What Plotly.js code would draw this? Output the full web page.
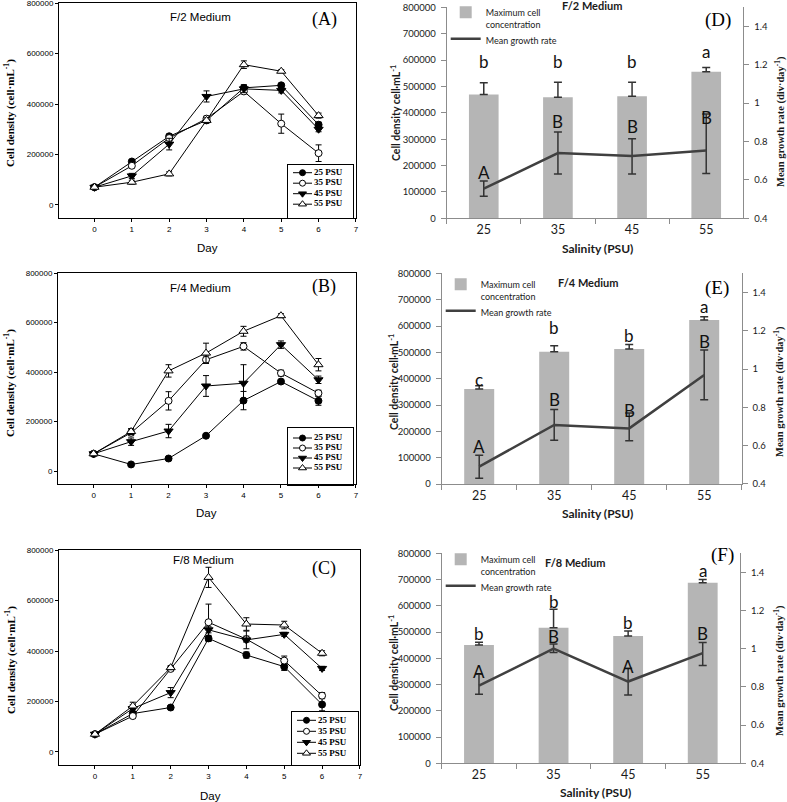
<!DOCTYPE html>
<html>
<head>
<meta charset="utf-8">
<script src="https://cdn.plot.ly/plotly-3.0.1.min.js"></script>
<style>
  html, body { margin: 0; padding: 0; background: #fff; }
  #plotArea { width: 787px; height: 802px; }
</style>
</head>
<body>
<div id="plotArea"></div>
<script>
// Growth curves, cells per mL
var days = [0, 1, 2, 3, 4, 5, 6];
var psuNames = ["25 PSU", "35 PSU", "45 PSU", "55 PSU"];

// F/2 medium (A)
var f2_25 = [70000, 172000, 272000, 335000, 464000, 474000, 318000];
var f2_35 = [70000, 155000, 265000, 342000, 450000, 322000, 205000];
var f2_45 = [70000, 115000, 241000, 430000, 460000, 454000, 300000];
var f2_55 = [70000, 90000, 123000, 335000, 556000, 530000, 354000];
var f2_25e = [3000, 8000, 8000, 8000, 12000, 8000, 10000];
var f2_35e = [3000, 8000, 8000, 10000, 10000, 38000, 33000];
var f2_45e = [3000, 10000, 23000, 22000, 15000, 10000, 10000];
var f2_55e = [3000, 8000, 8000, 10000, 15000, 6000, 10000];

// F/4 medium (B)
var f4_25 = [70000, 27000, 51000, 143000, 285000, 362000, 284000];
var f4_35 = [70000, 155000, 284000, 450000, 504000, 396000, 315000];
var f4_45 = [70000, 119000, 162000, 344000, 355000, 511000, 369000];
var f4_55 = [70000, 160000, 405000, 477000, 565000, 628000, 430000];
var f4_25e = [3000, 5000, 5000, 5000, 37000, 5000, 18000];
var f4_35e = [3000, 12000, 37000, 15000, 15000, 12000, 12000];
var f4_45e = [3000, 15000, 27000, 42000, 75000, 15000, 15000];
var f4_55e = [3000, 12000, 25000, 40000, 20000, 8000, 25000];

// F/8 medium (C)
var f8_25 = [70000, 152000, 176000, 450000, 384000, 338000, 188000];
var f8_35 = [70000, 142000, 329000, 514000, 447000, 362000, 223000];
var f8_45 = [70000, 172000, 235000, 484000, 444000, 466000, 331000];
var f8_55 = [70000, 182000, 334000, 692000, 507000, 503000, 391000];
var f8_25e = [3000, 8000, 8000, 12000, 12000, 15000, 25000];
var f8_35e = [3000, 8000, 8000, 72000, 12000, 18000, 12000];
var f8_45e = [3000, 15000, 20000, 12000, 35000, 8000, 8000];
var f8_55e = [3000, 15000, 8000, 40000, 25000, 15000, 10000];

// Salinity summaries (D, E, F)
var salinity = ["25", "35", "45", "55"];
var f2Max = [470000, 459000, 463000, 556000];
var f2MaxErr = [44000, 57000, 53000, 16000];
var f2Rate = [0.554, 0.740, 0.725, 0.753];
var f2RateUp = [0.04, 0.11, 0.09, 0.19];
var f2RateDown = [0.04, 0.11, 0.095, 0.12];
var f2Lower = ["b", "b", "b", "a"];
var f2Upper = ["A", "B", "B", "B"];
var f2LowerAt = [596000, 596000, 596000, 632000];
var f2UpperAt = [174000, 366000, 347000, 383000];

var f4Max = [361000, 502000, 513000, 623000];
var f4MaxErr = [12000, 23000, 17000, 12000];
var f4Rate = [0.49, 0.708, 0.69, 0.969];
var f4RateUp = [0.06, 0.08, 0.08, 0.13];
var f4RateDown = [0.06, 0.08, 0.065, 0.13];
var f4Lower = ["c", "b", "b", "a"];
var f4Upper = ["A", "B", "B", "B"];
var f4LowerAt = [397000, 594000, 563000, 673000];
var f4UpperAt = [142000, 321000, 278000, 543000];

var f8Max = [451000, 517000, 485000, 688000];
var f8MaxErr = [10000, 70000, 19000, 13000];
var f8Rate = [0.806, 1.0, 0.828, 0.977];
var f8RateUp = [0.06, 0.025, 0.07, 0.056];
var f8RateDown = [0.045, 0.02, 0.07, 0.065];
var f8Lower = ["b", "b", "b", "a"];
var f8Upper = ["A", "B", "A", "B"];
var f8LowerAt = [493000, 618000, 536000, 734000];
var f8UpperAt = [349000, 482000, 368000, 495000];

// ---- layout helpers (pixel -> paper) ----
var W = 787, H = 802;
function px(x) { return x / W; }
function py(y) { return 1 - y / H; }

var psuStyle = [
  {symbol: "circle", fill: "black", size: 7},
  {symbol: "circle", fill: "white", size: 7},
  {symbol: "triangle-down", fill: "black", size: 8},
  {symbol: "triangle-up", fill: "white", size: 8}
];

var sansTick = {family: "Liberation Sans, Arial", size: 8, color: "black"};
var data = [];
var layout = {
  width: W, height: H,
  margin: {l: 0, r: 0, t: 0, b: 0},
  paper_bgcolor: "white", plot_bgcolor: "rgba(0,0,0,0)",
  showlegend: true,
  annotations: []
};

function note(text, x, y, font, angle) {
  layout.annotations.push({
    text: text, xref: "paper", yref: "paper", x: px(x), y: py(y),
    xanchor: "center", yanchor: "middle", showarrow: false,
    font: font, textangle: angle || 0
  });
}

// ---- left column: growth curves ----
var leftPanels = [
  {n: "", ys: [f2_25, f2_35, f2_45, f2_55], es: [f2_25e, f2_35e, f2_45e, f2_55e],
   box: [59, 356, 3, 218], leg: [288, 353, 165, 218], row0: 7.7, rowGap: 10.5, legN: 7,
   title: "F/2 Medium", titleAt: [200, 17], tag: "(A)", tagAt: [324, 19], yTitleY: 113, dayAt: [207, 248]},
  {n: "2", ys: [f4_25, f4_35, f4_45, f4_55], es: [f4_25e, f4_35e, f4_45e, f4_55e],
   box: [58, 356, 273, 484], leg: [288, 353, 428, 485], row0: 10, rowGap: 10, legN: 8,
   title: "F/4 Medium", titleAt: [200, 288], tag: "(B)", tagAt: [324, 286], yTitleY: 383, dayAt: [206, 513]},
  {n: "3", ys: [f8_25, f8_35, f8_45, f8_55], es: [f8_25e, f8_35e, f8_45e, f8_55e],
   box: [59, 360, 550, 765], leg: [292, 358, 712, 765], row0: 8.3, rowGap: 11, legN: 9,
   title: "F/8 Medium", titleAt: [203, 560], tag: "(C)", tagAt: [324, 568], yTitleY: 660, dayAt: [210, 796]}
];

leftPanels.forEach(function(p) {
  var xa = "x" + p.n, ya = "y" + p.n;
  var axisBase = {
    showline: true, mirror: true, linecolor: "black", linewidth: 1,
    ticks: "outside", ticklen: 3, tickcolor: "black", tickwidth: 1,
    showgrid: false, zeroline: false, tickfont: sansTick, fixedrange: true,
    ticklabeloverflow: "allow"
  };
  layout["xaxis" + p.n] = Object.assign({}, axisBase, {
    domain: [px(p.box[0]), px(p.box[1])], anchor: ya,
    range: [-0.95, 7.002], tickvals: [0, 1, 2, 3, 4, 5, 6, 7]
  });
  layout["yaxis" + p.n] = Object.assign({}, axisBase, {
    domain: [py(p.box[3]), py(p.box[2])], anchor: xa,
    range: [-52000, 800500], tickvals: [0, 200000, 400000, 600000, 800000], tickformat: "d"
  });

  psuNames.forEach(function(name, k) {
    var st = psuStyle[k];
    data.push({
      type: "scatter", mode: "lines+markers", name: name,
      x: days, y: p.ys[k], xaxis: xa, yaxis: ya, showlegend: false,
      line: {color: "black", width: 1},
      marker: {symbol: st.symbol, size: st.size, color: st.fill, line: {color: "black", width: 1}},
      error_y: {type: "data", array: p.es[k], visible: true, color: "black", thickness: 1, width: 3}
    });
  });

  // boxed key drawn on a small helper axis pair
  var lx = "x" + p.legN, ly = "y" + (p.legN + 3);
  var bw = p.leg[1] - p.leg[0], bh = p.leg[3] - p.leg[2];
  var keyAxis = {
    showline: true, mirror: true, linecolor: "black", linewidth: 1,
    showticklabels: false, ticks: "", showgrid: false, zeroline: false, fixedrange: true
  };
  layout["xaxis" + p.legN] = Object.assign({}, keyAxis, {
    domain: [px(p.leg[0]), px(p.leg[1])], range: [0, bw], anchor: ly
  });
  layout["yaxis" + (p.legN + 3)] = Object.assign({}, keyAxis, {
    domain: [py(p.leg[3]), py(p.leg[2])], range: [bh, 0], anchor: lx
  });
  var rows = psuNames.map(function(name, k) { return p.row0 + k * p.rowGap; });
  psuNames.forEach(function(name, k) {
    var st = psuStyle[k];
    data.push({
      type: "scatter", mode: "lines+markers", x: [5, 14.5, 24], y: [rows[k], rows[k], rows[k]],
      xaxis: lx, yaxis: ly, showlegend: false, hoverinfo: "skip",
      line: {color: "black", width: 1},
      marker: {symbol: st.symbol, size: st.size - 1, color: st.fill, opacity: [0, 1, 0],
               line: {color: "black", width: 1}}
    });
  });
  data.push({
    type: "scatter", mode: "text", x: rows.map(function() { return 26; }), y: rows,
    text: psuNames, textposition: "middle right", xaxis: lx, yaxis: ly,
    showlegend: false, hoverinfo: "skip", cliponaxis: false,
    textfont: {family: "Liberation Serif, Times New Roman", size: 9, color: "black", weight: "bold"}
  });

  note(p.title, p.titleAt[0], p.titleAt[1], {family: "Liberation Sans, Arial", size: 11.5, color: "black"});
  note(p.tag, p.tagAt[0], p.tagAt[1], {family: "Liberation Serif, Times New Roman", size: 18, color: "black"});
  note("<b>Cell density (cell·mL<sup>-1</sup>)</b>", 10, p.yTitleY,
       {family: "Liberation Serif, Times New Roman", size: 11, color: "black"}, -90);
  note("Day", p.dayAt[0], p.dayAt[1], {family: "Liberation Sans, Arial", size: 11.5, color: "black"});
});

// ---- right column: maximum concentration and growth rate ----
var rightPanels = [
  {x: "4", yl: "4", yr: "7", lg: "legend", max: f2Max, maxErr: f2MaxErr,
   rate: f2Rate, up: f2RateUp, down: f2RateDown,
   lower: f2Lower, lowerAt: f2LowerAt, upper: f2Upper, upperAt: f2UpperAt,
   box: [446.7, 743.3, 7.3, 218.3], legTop: 0,
   title: "F/2 Medium", titleAt: [592, 6], tag: "(D)", tagAt: [718, 20],
   yTitleAt: [396, 113], rTitleAt: [780, 122], xTitleAt: [597, 248]},
  {x: "5", yl: "5", yr: "8", lg: "legend2", max: f4Max, maxErr: f4MaxErr,
   rate: f4Rate, up: f4RateUp, down: f4RateDown,
   lower: f4Lower, lowerAt: f4LowerAt, upper: f4Upper, upperAt: f4UpperAt,
   box: [441.7, 741.7, 273.3, 484], legTop: 272,
   title: "F/4 Medium", titleAt: [588, 282], tag: "(E)", tagAt: [717, 288],
   yTitleAt: [393, 382], rTitleAt: [779, 392], xTitleAt: [597, 513]},
  {x: "6", yl: "6", yr: "9", lg: "legend3", max: f8Max, maxErr: f8MaxErr,
   rate: f8Rate, up: f8RateUp, down: f8RateDown,
   lower: f8Lower, lowerAt: f8LowerAt, upper: f8Upper, upperAt: f8UpperAt,
   box: [441.7, 740, 553.3, 763.3], legTop: 547,
   title: "F/8 Medium", titleAt: [575, 562], tag: "(F)", tagAt: [722, 555],
   yTitleAt: [393, 663], rTitleAt: [779, 671], xTitleAt: [595, 792]}
];

var calibri = "Lato, Open Sans, sans-serif";
var grey = "#8c8c8c";

rightPanels.forEach(function(p) {
  var xa = "x" + p.x, yl = "y" + p.yl, yr = "y" + p.yr;
  var axisBase = {
    showline: true, linecolor: grey, linewidth: 1, ticks: "outside", ticklen: 5,
    tickcolor: grey, showgrid: false, zeroline: false, fixedrange: true,
    ticklabeloverflow: "allow"
  };
  layout["xaxis" + p.x] = Object.assign({}, axisBase, {
    type: "category", domain: [px(p.box[0]), px(p.box[1])], anchor: yl,
    range: [-0.5, 3.5], tickson: "boundaries",
    tickfont: {family: calibri, size: 12.5, color: "#1a1a1a"}
  });
  layout["yaxis" + p.yl] = Object.assign({}, axisBase, {
    domain: [py(p.box[3]), py(p.box[2])], anchor: xa,
    range: [0, 800500], dtick: 100000, tickformat: "d", ticklabelstandoff: 3,
    tickfont: {family: calibri, size: 9.5, color: "#1a1a1a"}
  });
  layout["yaxis" + p.yr] = Object.assign({}, axisBase, {
    overlaying: yl, side: "right", anchor: xa,
    range: [0.3995, 1.5], tickvals: [0.4, 0.6, 0.8, 1, 1.2, 1.4], ticklabelstandoff: 3,
    tickfont: {family: calibri, size: 9.5, color: "#1a1a1a"}
  });

  data.push({
    type: "bar", name: "Maximum cell<br>concentration", x: salinity, y: p.max,
    xaxis: xa, yaxis: yl, legend: p.lg, width: 0.4,
    marker: {color: "#b5b5b5", line: {width: 0}},
    error_y: {type: "data", symmetric: false, array: p.maxErr, arrayminus: [0, 0, 0, 0],
              visible: true, color: "#333333", thickness: 1.5, width: 4}
  });
  data.push({
    type: "scatter", mode: "lines", name: "Mean growth rate", x: salinity, y: p.rate,
    xaxis: xa, yaxis: yr, legend: p.lg,
    line: {color: "#404040", width: 2.5},
    error_y: {type: "data", symmetric: false, array: p.up, arrayminus: p.down,
              visible: true, color: "#333333", thickness: 1.5, width: 4}
  });

  // key sits just inside the left axis line (kept inside the page so no margin is added)
  layout[p.lg] = {
    x: px(p.box[0] - 1), y: py(p.legTop), xanchor: "left", yanchor: "top",
    bgcolor: "rgba(0,0,0,0)", borderwidth: 0, valign: "top",
    itemwidth: 30, tracegroupgap: 0,
    font: {family: calibri, size: 9, color: "#1a1a1a"}
  };

  salinity.forEach(function(s, i) {
    layout.annotations.push({
      xref: xa, yref: yl, x: i, y: p.lowerAt[i], text: p.lower[i], showarrow: false,
      font: {family: calibri, size: 17, color: "#111"}
    });
    layout.annotations.push({
      xref: xa, yref: yl, x: i, y: p.upperAt[i], text: p.upper[i], showarrow: false,
      font: {family: calibri, size: 17, color: "#111"}
    });
  });

  note("<b>" + p.title + "</b>", p.titleAt[0], p.titleAt[1], {family: calibri, size: 11, color: "#1a1a1a"});
  note(p.tag, p.tagAt[0], p.tagAt[1], {family: "Liberation Serif, Times New Roman", size: 19, color: "black"});
  note("<b>Cell density cell·mL<sup>-1</sup></b>", p.yTitleAt[0], p.yTitleAt[1],
       {family: calibri, size: 10.5, color: "#1a1a1a"}, -90);
  note("<b>Mean growth rate (div·day<sup>-1</sup>)</b>", p.rTitleAt[0], p.rTitleAt[1],
       {family: "Liberation Serif, Times New Roman", size: 10.5, color: "#1a1a1a"}, -90);
  note("<b>Salinity (PSU)</b>", p.xTitleAt[0], p.xTitleAt[1], {family: calibri, size: 12, color: "#1a1a1a"});
});

Plotly.newPlot("plotArea", data, layout, {staticPlot: true, displayModeBar: false});
</script>
</body>
</html>
